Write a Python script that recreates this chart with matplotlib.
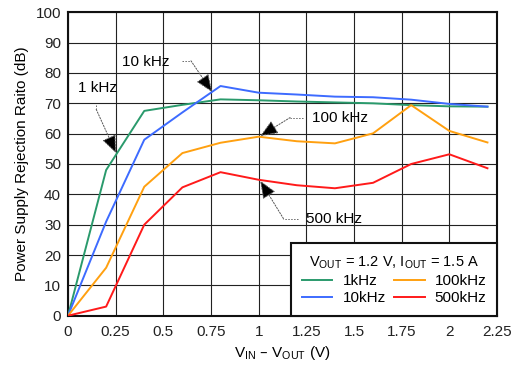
import matplotlib
matplotlib.use("Agg")
import matplotlib.pyplot as plt

plt.rcParams['font.family'] = ['Liberation Sans', 'DejaVu Sans']

x = [0, 0.2, 0.4, 0.6, 0.8, 1.0, 1.2, 1.4, 1.6, 1.8, 2.0, 2.2]
psrr_1k   = [0, 48, 67.5, 69.5, 71.3, 71.0, 70.6, 70.3, 70.0, 69.4, 69.0, 68.9]
psrr_10k  = [0, 31, 58, 67, 75.7, 73.5, 72.9, 72.2, 72.0, 71.2, 69.8, 68.9]
psrr_100k = [0, 15.8, 42.5, 53.6, 57, 59, 57.5, 56.8, 60.1, 69.4, 60.9, 57.1]
psrr_500k = [0, 3, 30, 42.3, 47.3, 44.8, 43.0, 42.0, 43.8, 50.0, 53.2, 48.6]

labels = ['1kHz', '10kHz', '100kHz', '500kHz']
colors = ['#2a9a6c', '#3d6bff', '#ffa010', '#ff1a1a']
series = [psrr_1k, psrr_10k, psrr_100k, psrr_500k]

xticks = [0, 0.25, 0.5, 0.75, 1, 1.25, 1.5, 1.75, 2, 2.25]
xticklabels = ['0', '0.25', '0.5', '0.75', '1', '1.25', '1.5', '1.75', '2', '2.25']
yticks = list(range(0, 101, 10))

# annotations: text, text position, bend point, arrow tip
annots = [
    ('1 kHz',   (0.157, 75.0), (0.148, 68.0), (0.252, 53.6)),
    ('10 kHz',  (0.410, 83.6), (0.645, 84.0), (0.756, 73.7)),
    ('100 kHz', (1.428, 65.1), (1.165, 65.3), (1.008, 59.2)),
    ('500 kHz', (1.393, 31.9), (1.130, 32.0), (1.008, 44.5)),
]
starts = [(0.148, 69.5), (0.600, 84.0), (1.235, 65.3), (1.205, 32.0)]

fig = plt.figure(figsize=(5.14, 3.67), dpi=100)
ax = fig.add_axes([0.1323, 0.1398, 0.9669 - 0.1323, 0.9665 - 0.1398])

for ys, c, lab in zip(series, colors, labels):
    ax.plot(x, ys, color=c, lw=1.4, label=lab, zorder=3)

ax.set_xlim(0, 2.25)
ax.set_ylim(0, 100)
ax.set_xticks(xticks)
ax.set_xticklabels(xticklabels)
ax.set_yticks(yticks)
ax.tick_params(length=0, labelsize=11, pad=7, colors='#222222')
ax.tick_params(axis='y', pad=5)
ax.grid(True, color='#222222', lw=0.8, zorder=1)
for s in ax.spines.values():
    s.set_linewidth(1.5)
    s.set_color('#111111')

ax.set_xlabel('V$_{\\mathregular{IN}}$ \u2013 V$_{\\mathregular{OUT}}$ (V)', fontsize=11, labelpad=3)
ax.set_ylabel('Power Supply Rejection Raito (dB)', fontsize=11, labelpad=5)

apr = dict(arrowstyle='-|>,head_length=1.1,head_width=0.45', fc='black', ec='#555555',
           lw=0.7, linestyle=(0, (1.5, 1.5)), shrinkA=0, shrinkB=0)
for (txt, tpos, bend, tip), st in zip(annots, starts):
    ax.text(tpos[0], tpos[1], txt, fontsize=11, ha='center', va='center', zorder=4)
    ax.plot([st[0], bend[0]], [st[1], bend[1]], color='#666666', lw=0.7,
            linestyle=(0, (1.5, 1.5)), zorder=4)
    ax.annotate('', xy=tip, xytext=bend, arrowprops=apr, zorder=4)

leg = ax.legend(loc='lower right', bbox_to_anchor=(1, 0), borderaxespad=0, ncol=2,
                title='V$_{\\mathregular{OUT}}$ = 1.2 V, I$_{\\mathregular{OUT}}$ = 1.5 A',
                fontsize=11, title_fontsize=10.5, fancybox=False, framealpha=1,
                edgecolor='#111111', handlelength=2.0, handletextpad=0.65,
                columnspacing=0.55, labelspacing=0.2, borderpad=0.7)
leg.get_frame().set_linewidth(1.5)
leg.set_zorder(5)

fig.savefig('out.png', dpi=100)
